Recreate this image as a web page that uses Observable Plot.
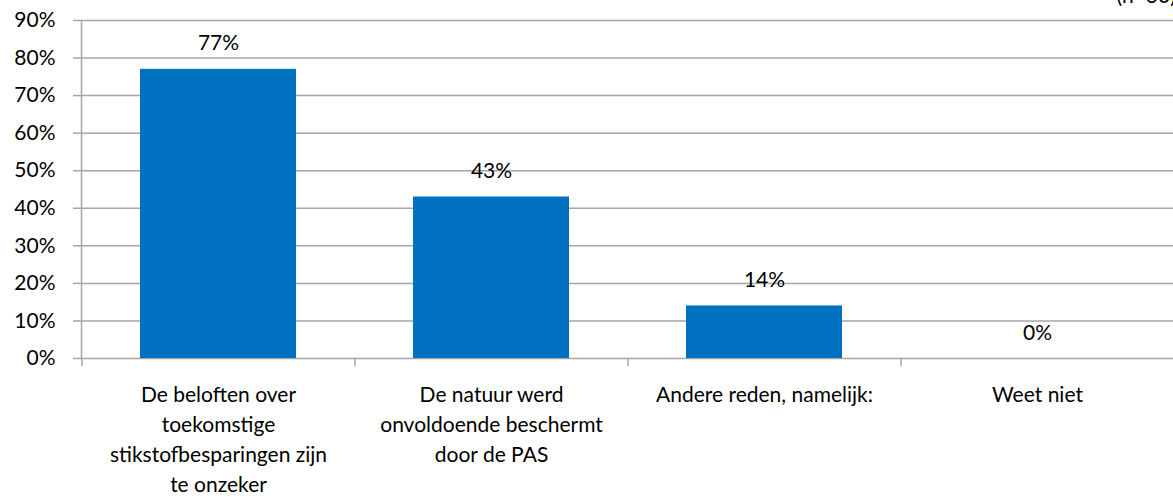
<!DOCTYPE html>
<html>
<head>
<meta charset="utf-8">
<script src="https://cdn.jsdelivr.net/npm/d3@7"></script>
<script src="https://cdn.jsdelivr.net/npm/@observablehq/plot@0.6"></script>
<style>
  html, body { margin: 0; padding: 0; background: #fff; overflow: hidden; }
  #chart svg { overflow: hidden; }
</style>
</head>
<body>
<div id="chart"></div>
<script>
const categories = [
  "De beloften over\ntoekomstige\nstikstofbesparingen zijn\nte onzeker",
  "De natuur werd\nonvoldoende beschermt\ndoor de PAS",
  "Andere reden, namelijk:",
  "Weet niet"
];
const values = [77, 43, 14, 0];
const yTicks = [0, 10, 20, 30, 40, 50, 60, 70, 80, 90];
const sampleNote = ["(n=30)"];

const data = categories.map((c, i) => ({category: c, value: values[i]}));
const grey = "#a6a6a6";
const font = "Lato, 'Open Sans', sans-serif";

const chart = Plot.plot({
  width: 1173,
  height: 503,
  marginLeft: 81,
  marginRight: 0,
  marginTop: 20,
  marginBottom: 145,
  style: {fontFamily: font, fontSize: "21px", color: "#000", background: "#fff"},
  x: {domain: categories, paddingInner: 0.4286, paddingOuter: 0.2143, axis: null},
  y: {domain: [0, 90], axis: null},
  marks: [
    Plot.gridY(yTicks, {stroke: grey, strokeOpacity: 1, strokeWidth: 1.5}),
    Plot.frame({anchor: "left", stroke: grey, strokeWidth: 1.5}),
    Plot.axisY(yTicks, {tickSize: 8, stroke: grey, strokeWidth: 1.5, text: null, label: null}),
    Plot.axisY(yTicks, {tickSize: 0, tickPadding: 26, tickFormat: d => d + "%", fill: "#000", fontSize: 21, label: null}),
    Plot.ruleX(categories, {x: d => d, y1: 0, y2: 0, insetBottom: -8, dx: -136.5, stroke: grey, strokeWidth: 1.5}),
    Plot.barY(data, {x: "category", y: "value", fill: "#0070C0"}),
    Plot.text(data, {x: "category", y: "value", text: d => d.value + "%", dy: -19, lineAnchor: "bottom", fill: "#000", fontSize: 21}),
    Plot.axisX(categories, {tickSize: 0, tickPadding: 22, lineHeight: 1.43, fill: "#000", fontSize: 21, label: null}),
    Plot.text(sampleNote, {frameAnchor: "top-right", textAnchor: "start", lineAnchor: "bottom", dx: -57, dy: -18, fill: "#000", fontSize: 21})
  ]
});
document.getElementById("chart").appendChild(chart);
</script>
</body>
</html>
